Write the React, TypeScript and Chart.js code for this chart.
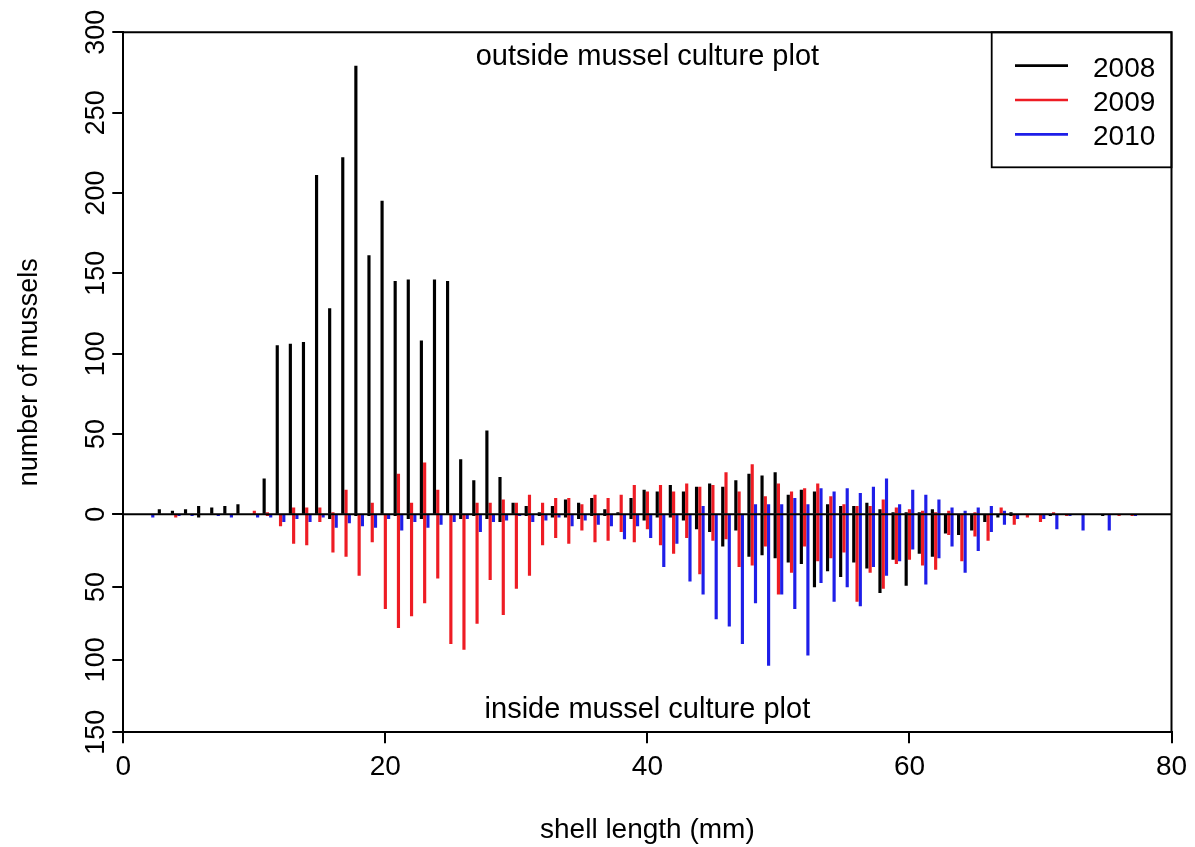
import React, { useEffect, useRef } from 'react';
import { Chart, registerables } from 'chart.js';

Chart.register(...registerables);

// shell length classes (mm)
const classes = [
  1, 2, 3, 4, 5, 6, 7, 8, 9, 10, 11, 12, 13, 14, 15, 16, 17, 18, 19, 20,
  21, 22, 23, 24, 25, 26, 27, 28, 29, 30, 31, 32, 33, 34, 35, 36, 37, 38, 39, 40,
  41, 42, 43, 44, 45, 46, 47, 48, 49, 50, 51, 52, 53, 54, 55, 56, 57, 58, 59, 60,
  61, 62, 63, 64, 65, 66, 67, 68, 69, 70, 71, 72, 73, 74, 75, 76, 77, 78,
];

// outside mussel culture plot
const out2008 = [
  0, 0, 3, 2, 3, 5, 4, 5, 6, 0, 22, 105, 106, 107, 211, 128, 222, 279, 161, 195,
  145, 146, 108, 146, 145, 34, 21, 52, 23, 7, 5, 1, 5, 9, 7, 10, 3, 1, 10, 15,
  14, 18, 14, 17, 19, 17, 21, 25, 24, 26, 12, 15, 14, 6, 5, 5, 7, 3, 1, 1,
  1, 3, 0, 0, 0, 0, 0, 1, 0, 0, 0, 0, 0, 0, 0, 0, 0, 0,
];
const out2009 = [
  0, 0, 0, 0, 0, 0, 0, 0, 0, 2, 1, 0, 4, 4, 4, 1, 15, 0, 7, 0,
  25, 7, 32, 15, 0, 0, 7, 7, 9, 7, 12, 7, 10, 10, 6, 12, 10, 12, 18, 14,
  18, 14, 19, 17, 18, 26, 14, 31, 11, 19, 14, 16, 19, 11, 6, 5, 5, 9, 4, 3,
  2, 1, 2, 0, 1, 0, 4, 0, 0, 0, 1, 0, 0, 0, 0, 0, 0, 0,
];
const out2010 = [
  0, 0, 0, 0, 0, 0, 0, 0, 0, 0, 0, 0, 0, 0, 0, 0, 0, 0, 0, 0,
  0, 0, 0, 0, 0, 0, 0, 0, 0, 0, 0, 0, 0, 0, 0, 0, 0, 0, 0, 0,
  0, 0, 0, 5, 0, 0, 0, 6, 6, 6, 10, 6, 16, 14, 16, 13, 17, 22, 6, 15,
  12, 9, 4, 2, 4, 5, 2, 0, 0, 0, 0, 0, 0, 0, 0, 0, 0, 0,
];

// inside mussel culture plot
const in2008 = [
  0, 0, 0, 0, 0, 2, 0, 0, 0, 0, 0, 0, 0, 0, 0, 3, 0, 1, 1, 0,
  1, 3, 3, 0, 0, 3, 1, 3, 5, 0, 1, 1, 2, 2, 3, 1, 1, 0, 3, 4,
  2, 2, 4, 10, 12, 22, 11, 29, 28, 30, 33, 34, 50, 39, 43, 33, 37, 54, 31, 49,
  27, 29, 13, 14, 11, 5, 2, 1, 0, 0, 1, 0, 0, 0, 1, 0, 0, 0,
];
const in2009 = [
  0, 0, 0, 2, 0, 0, 0, 0, 0, 0, 1, 8, 20, 21, 5, 26, 29, 42, 19, 65,
  78, 70, 61, 44, 89, 93, 75, 45, 69, 51, 42, 21, 16, 20, 11, 19, 18, 12, 19, 10,
  21, 27, 16, 41, 18, 17, 36, 35, 22, 55, 40, 22, 32, 30, 26, 60, 40, 51, 34, 31,
  35, 38, 14, 32, 15, 18, 0, 7, 2, 5, 0, 1, 0, 0, 0, 1, 1, 0,
];
const in2010 = [
  0, 2, 0, 1, 1, 0, 1, 2, 0, 2, 2, 5, 3, 5, 2, 9, 6, 8, 9, 3,
  11, 5, 9, 7, 5, 3, 12, 5, 4, 1, 5, 4, 2, 8, 4, 7, 8, 17, 8, 16,
  36, 20, 46, 55, 72, 77, 89, 61, 104, 55, 65, 97, 47, 60, 50, 63, 36, 42, 32, 24,
  48, 30, 22, 40, 25, 12, 7, 3, 0, 3, 10, 1, 11, 0, 11, 0, 1, 0,
];

const years = ['2008', '2009', '2010'];
const xTicks = [0, 20, 40, 60, 80];
const yOutTicks = [0, 50, 100, 150, 200, 250, 300];
const yInTicks = [0, 50, 100, 150];

const COLORS = ['#000000', '#ee1c24', '#1e1ee8'];
const OFFSETS = [-0.25, 0, 0.25];
const FONT = '28px "Liberation Sans", Arial, sans-serif';
const AFONT = '29px "Liberation Sans", Arial, sans-serif';
const YFONT = '27px "Liberation Sans", Arial, sans-serif';

function pts(vals: number[], off: number) {
  const r: { x: number; y: number }[] = [];
  vals.forEach((v, i) => {
    if (v > 0) r.push({ x: classes[i] + off, y: v });
  });
  return r;
}

const decorPlugin = {
  id: 'decor',
  afterDatasetsDraw(chart: any) {
    const ctx = chart.ctx;
    const a = chart.chartArea;
    const yOut = chart.scales.yOut;
    const y0 = yOut.getPixelForValue(0);
    ctx.save();
    ctx.strokeStyle = '#000';
    ctx.lineWidth = 2;
    ctx.beginPath();
    ctx.moveTo(a.left, y0);
    ctx.lineTo(a.right, y0);
    ctx.stroke();
    ctx.restore();
  },
  afterDraw(chart: any) {
    const ctx = chart.ctx;
    const a = chart.chartArea;
    const xs = chart.scales.x;
    const yOut = chart.scales.yOut;
    const yIn = chart.scales.yIn;
    ctx.save();
    ctx.strokeStyle = '#000';
    ctx.fillStyle = '#000';
    // box top and right
    ctx.lineWidth = 2;
    ctx.beginPath();
    ctx.moveTo(a.left, a.top);
    ctx.lineTo(a.right, a.top);
    ctx.lineTo(a.right, a.bottom);
    ctx.stroke();

    // x tick labels
    ctx.font = FONT;
    ctx.textAlign = 'center';
    ctx.textBaseline = 'alphabetic';
    xTicks.forEach((v) => ctx.fillText(String(v), xs.getPixelForValue(v), 775));

    // y tick labels (rotated)
    ctx.font = YFONT;
    const drawY = (v: number, py: number) => {
      ctx.save();
      ctx.translate(104, py);
      ctx.rotate(-Math.PI / 2);
      ctx.textAlign = 'center';
      ctx.textBaseline = 'alphabetic';
      ctx.fillText(String(v), 0, 0);
      ctx.restore();
    };
    yOutTicks.forEach((v) => drawY(v, yOut.getPixelForValue(v)));
    yInTicks.filter((v) => v > 0).forEach((v) => drawY(v, yIn.getPixelForValue(v)));

    // axis titles
    ctx.save();
    ctx.translate(37, (a.top + a.bottom) / 2 - 10);
    ctx.rotate(-Math.PI / 2);
    ctx.textAlign = 'center';
    ctx.fillText('number of mussels', 0, 0);
    ctx.restore();

    ctx.font = FONT;
    ctx.textAlign = 'center';
    ctx.fillText('shell length (mm)', (a.left + a.right) / 2, 838);

    // annotations
    ctx.font = AFONT;
    ctx.fillText('outside mussel culture plot', (a.left + a.right) / 2, 65);
    ctx.fillText('inside mussel culture plot', (a.left + a.right) / 2, 718);

    // legend
    ctx.font = FONT;
    const lx = 991.7;
    const ly = a.top;
    ctx.lineWidth = 1.8;
    ctx.strokeRect(lx, ly, a.right - lx, 135);
    years.forEach((yr, i) => {
      const cy = 65.7 + i * 34.3;
      ctx.strokeStyle = COLORS[i];
      ctx.lineWidth = 2.7;
      ctx.beginPath();
      ctx.moveTo(1015, cy);
      ctx.lineTo(1068, cy);
      ctx.stroke();
      ctx.fillStyle = '#000';
      ctx.textAlign = 'left';
      ctx.fillText(yr, 1093, cy + 11);
    });
    ctx.restore();
  },
};

export default function App() {
  const ref = useRef<HTMLCanvasElement>(null);
  useEffect(() => {
    document.body.style.margin = '0';
    const outs = [out2008, out2009, out2010];
    const ins = [in2008, in2009, in2010];
    const datasets: any[] = [];
    years.forEach((yr, i) => {
      datasets.push({
        label: yr + ' outside',
        data: pts(outs[i], OFFSETS[i]),
        backgroundColor: COLORS[i],
        yAxisID: 'yOut',
        barThickness: 2.5,
        grouped: false,
      });
    });
    years.forEach((yr, i) => {
      datasets.push({
        label: yr + ' inside',
        data: pts(ins[i], OFFSETS[i]),
        backgroundColor: COLORS[i],
        yAxisID: 'yIn',
        barThickness: 2.5,
        grouped: false,
      });
    });

    const tickGrid = {
      display: true,
      drawOnChartArea: false,
      drawTicks: true,
      tickLength: 11,
      color: '#000',
      lineWidth: 2,
      offset: false,
    };
    const border = { display: true, color: '#000', width: 2 };

    const chart = new Chart(ref.current as HTMLCanvasElement, {
      type: 'bar',
      data: { datasets },
      plugins: [decorPlugin],
      options: {
        animation: false,
        responsive: false,
        maintainAspectRatio: false,
        devicePixelRatio: 1,
        layout: { padding: { left: 0, top: 32.3, right: 23.5, bottom: 74.7 } },
        plugins: { legend: { display: false }, tooltip: { enabled: false } },
        scales: {
          x: {
            type: 'linear',
            min: 0,
            max: 80,
            offset: false,
            position: 'bottom',
            grid: tickGrid,
            border,
            ticks: { display: false },
            afterBuildTicks: (s: any) => {
              s.ticks = xTicks.map((v) => ({ value: v }));
            },
            afterFit: (s: any) => {
              s.height = 40;
            },
          },
          yOut: {
            type: 'linear',
            position: 'left',
            stack: 'y',
            stackWeight: 482,
            weight: 2,
            min: 0,
            max: 300,
            grid: tickGrid,
            border,
            ticks: { display: false },
            afterBuildTicks: (s: any) => {
              s.ticks = yOutTicks.map((v) => ({ value: v }));
            },
            afterFit: (s: any) => {
              s.width = 123.3;
            },
          },
          yIn: {
            type: 'linear',
            position: 'left',
            stack: 'y',
            stackWeight: 218,
            weight: 1,
            min: 0,
            max: 150,
            reverse: true,
            grid: tickGrid,
            border,
            ticks: { display: false },
            afterBuildTicks: (s: any) => {
              s.ticks = yInTicks.map((v) => ({ value: v }));
            },
            afterFit: (s: any) => {
              s.width = 123.3;
            },
          },
        },
      } as any,
    });
    return () => chart.destroy();
  }, []);
  return (
    <canvas
      ref={ref}
      width={1195}
      height={847}
      style={{ display: 'block', width: 1195, height: 847, background: '#fff' }}
    />
  );
}
